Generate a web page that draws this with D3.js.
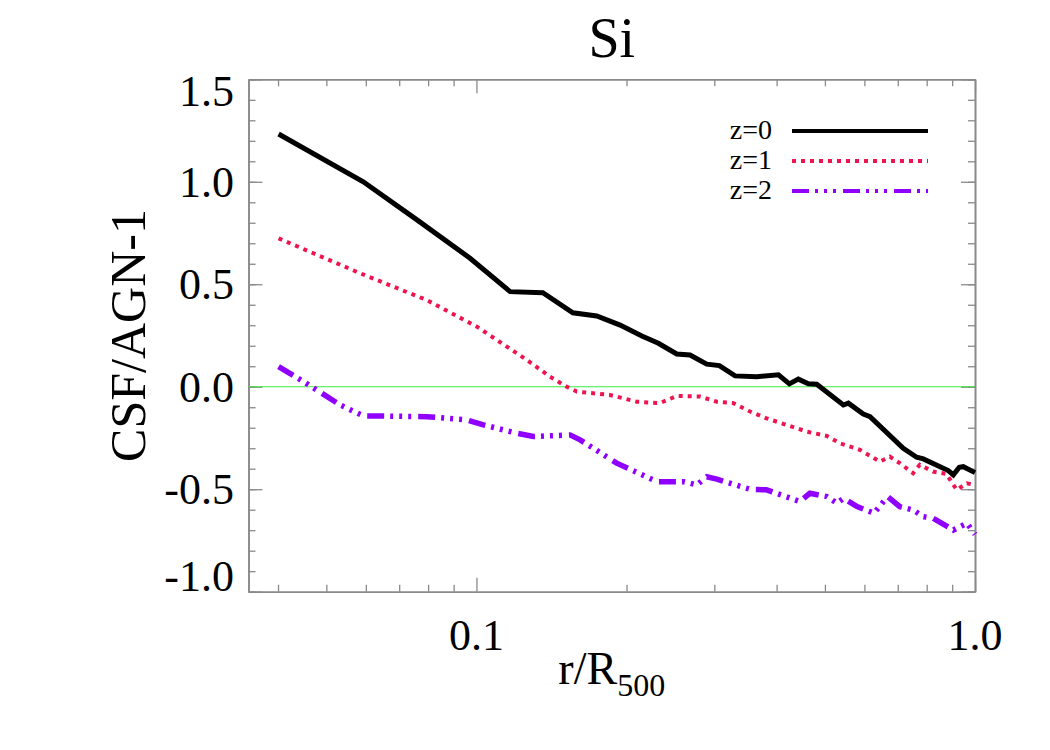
<!DOCTYPE html>
<html>
<head>
<meta charset="utf-8">
<script src="https://cdn.jsdelivr.net/npm/d3@7/dist/d3.min.js"></script>
<style>
  body { margin: 0; background: #fff; }
  text { font-family: "Liberation Serif", "Times New Roman", serif; fill: #000; }
</style>
</head>
<body>
<svg id="viz"></svg>
<script>

var width = 1050;
var height = 750;

// data
var radiusZ0 = [0.0401, 0.0593, 0.0760, 0.0971, 0.1168, 0.1359, 0.1561, 0.1743, 0.1942, 0.2147,
  0.2317, 0.2522, 0.2682, 0.2897, 0.3071, 0.3302, 0.3650, 0.4034, 0.4243, 0.4422, 0.4631,
  0.4815, 0.5445, 0.5572, 0.5970, 0.6158, 0.7180, 0.7639, 0.7876, 0.8508, 0.8841, 0.9048,
  0.9301, 0.9474, 1.0];
var ratioZ0 = [1.233, 1.000, 0.814, 0.627, 0.464, 0.459, 0.361, 0.345, 0.301, 0.248,
  0.212, 0.160, 0.155, 0.110, 0.103, 0.053, 0.049, 0.058, 0.014, 0.037, 0.014,
  0.012, -0.089, -0.080, -0.133, -0.146, -0.300, -0.344, -0.352, -0.390, -0.409, -0.430,
  -0.393, -0.390, -0.419];

var radiusZ1 = [0.0401, 0.0584, 0.0795, 0.1002, 0.1205, 0.1262, 0.1405, 0.1518, 0.1590, 0.1852,
  0.2097, 0.2333, 0.2522, 0.2808, 0.3035, 0.3277, 0.3537, 0.3818, 0.4188, 0.4598, 0.5044,
  0.5360, 0.5877, 0.6444, 0.6747, 0.7066, 0.7513, 0.7749, 0.8236, 0.8757, 0.9188, 0.9637, 1.0];
var ratioZ1 = [0.724, 0.554, 0.423, 0.293, 0.163, 0.131, 0.049, 0.000, -0.024, -0.040,
  -0.073, -0.080, -0.045, -0.048, -0.073, -0.080, -0.121, -0.154, -0.186, -0.219, -0.240,
  -0.276, -0.308, -0.365, -0.341, -0.373, -0.422, -0.381, -0.414, -0.425, -0.503, -0.471, -0.480];

var radiusZ2 = [0.0401, 0.0450, 0.0533, 0.0593, 0.0795, 0.0957, 0.1033, 0.1205, 0.1301, 0.1541,
  0.1614, 0.1911, 0.2301, 0.2600, 0.2767, 0.2897, 0.3035, 0.3537, 0.3818, 0.4454, 0.4663,
  0.5044, 0.5284, 0.5450, 0.5801, 0.6272, 0.6679, 0.7066, 0.7513, 0.7876, 0.8236, 0.9048,
  0.9637, 1.0];
var ratioZ2 = [0.098, 0.025, -0.089, -0.142, -0.146, -0.162, -0.186, -0.227, -0.243, -0.235,
  -0.259, -0.373, -0.463, -0.463, -0.479, -0.439, -0.451, -0.500, -0.503, -0.560, -0.520,
  -0.536, -0.568, -0.544, -0.585, -0.617, -0.536, -0.585, -0.601, -0.634, -0.641, -0.699,
  -0.666, -0.720];

var legendLabels = ["z=0", "z=1", "z=2"];

var xMajorTicks = [0.1, 1.0];
var xMinorTicks = [0.04, 0.05, 0.06, 0.07, 0.08, 0.09, 0.2, 0.3, 0.4, 0.5, 0.6, 0.7, 0.8, 0.9];
var xTickLabels = ["0.1", "1.0"];

var yMajorTicks = [1.5, 1.0, 0.5, 0.0, -0.5, -1.0];
var yMinorTicks = d3.range(-10, 16).map(function(d) { return d / 10; });
var yTickLabels = ["1.5", "1.0", "0.5", "0.0", "-0.5", "-1.0"];

// plot box
var plotLeft = 248.5;
var plotRight = 975;
var plotTop = 79.3;
var plotBottom = 591.7;

var svg = d3.select("#viz")
  .attr("width", width)
  .attr("height", height);

var x = d3.scaleLog()
  .domain([0.0349, 1.0])
  .range([plotLeft, plotRight]);

var y = d3.scaleLinear()
  .domain([-1.0, 1.5])
  .range([plotBottom, plotTop]);

var axisColor = "#8a8a8a";

function styleAxis(g) {
  g.select(".domain").attr("stroke", axisColor).attr("stroke-width", 1.6);
  g.selectAll(".tick line").attr("stroke", axisColor).attr("stroke-width", 1.3);
  g.selectAll(".tick text").remove();
}

// ticks point inward on every side
function drawAxis(axisFn, scale, ticks, size, transform) {
  var g = svg.append("g")
    .attr("transform", transform)
    .call(axisFn(scale).tickValues(ticks).tickSize(-size).tickSizeOuter(0).tickFormat(""));
  styleAxis(g);
  return g;
}

drawAxis(d3.axisBottom, x, xMinorTicks, 7, "translate(0," + plotBottom + ")");
drawAxis(d3.axisBottom, x, xMajorTicks, 14, "translate(0," + plotBottom + ")");
drawAxis(d3.axisTop, x, xMinorTicks, 7, "translate(0," + plotTop + ")");
drawAxis(d3.axisTop, x, xMajorTicks, 14, "translate(0," + plotTop + ")");
drawAxis(d3.axisLeft, y, yMinorTicks, 7, "translate(" + plotLeft + ",0)");
drawAxis(d3.axisLeft, y, yMajorTicks, 14, "translate(" + plotLeft + ",0)");
drawAxis(d3.axisRight, y, yMinorTicks, 7, "translate(" + plotRight + ",0)");
drawAxis(d3.axisRight, y, yMajorTicks, 14, "translate(" + plotRight + ",0)");

// tick labels
svg.append("g").selectAll("text")
  .data(xMajorTicks)
  .enter().append("text")
  .attr("x", function(d) { return x(d); })
  .attr("y", 650)
  .attr("text-anchor", "middle")
  .style("font-size", "44px")
  .text(function(d, i) { return xTickLabels[i]; });

svg.append("g").selectAll("text")
  .data(yMajorTicks)
  .enter().append("text")
  .attr("x", 234)
  .attr("y", function(d, i) {
    var pos = y(d);
    // end labels are pulled inside the box
    if (i === 0) pos += 12;
    if (i === yMajorTicks.length - 1) pos -= 16;
    return pos;
  })
  .attr("dy", "0.34em")
  .attr("text-anchor", "end")
  .style("font-size", "44px")
  .text(function(d, i) { return yTickLabels[i]; });

// zero line
svg.append("line")
  .attr("x1", plotLeft)
  .attr("x2", plotRight)
  .attr("y1", y(0))
  .attr("y2", y(0))
  .attr("stroke", "#3ee83e")
  .attr("stroke-width", 1.2);

// series
var series = [
  { r: radiusZ0, v: ratioZ0, color: "#000000", w: 5, lw: 4.2, dash: null },
  { r: radiusZ1, v: ratioZ1, color: "#ee1450", w: 4, lw: 3.8, dash: "4 5" },
  { r: radiusZ2, v: ratioZ2, color: "#8f00ff", w: 5.5, lw: 4.2, dash: "17 6 3 6 3 6 3 7" }
];

var line = d3.line()
  .x(function(d) { return x(d[0]); })
  .y(function(d) { return y(d[1]); });

series.forEach(function(s) {
  var pts = s.r.map(function(r, i) { return [r, s.v[i]]; });
  svg.append("path")
    .datum(pts)
    .attr("d", line)
    .attr("fill", "none")
    .attr("stroke", s.color)
    .attr("stroke-width", s.w)
    .attr("stroke-linejoin", "miter")
    .attr("stroke-dasharray", s.dash);
});

// legend
var legend = svg.append("g");
series.forEach(function(s, i) {
  var ly = 131 + i * 30;
  legend.append("text")
    .attr("x", 772)
    .attr("y", ly + 8)
    .attr("text-anchor", "end")
    .style("font-size", "28px")
    .text(legendLabels[i]);
  legend.append("line")
    .attr("x1", 792)
    .attr("x2", 928)
    .attr("y1", ly)
    .attr("y2", ly)
    .attr("stroke", s.color)
    .attr("stroke-width", s.lw)
    .attr("stroke-dasharray", s.dash);
});

// titles
svg.append("text")
  .attr("x", (plotLeft + plotRight) / 2)
  .attr("y", 57)
  .attr("text-anchor", "middle")
  .style("font-size", "56px")
  .text("Si");

var xTitle = svg.append("text")
  .attr("x", (plotLeft + plotRight) / 2)
  .attr("y", 684)
  .attr("text-anchor", "middle")
  .style("font-size", "46px");
xTitle.append("tspan").text("r/R");
xTitle.append("tspan")
  .attr("dy", 12)
  .style("font-size", "32px")
  .text("500");

svg.append("text")
  .attr("transform", "translate(145," + ((plotTop + plotBottom) / 2) + ") rotate(-90)")
  .attr("text-anchor", "middle")
  .style("font-size", "50px")
  .text("CSF/AGN-1");

</script>
</body>
</html>
